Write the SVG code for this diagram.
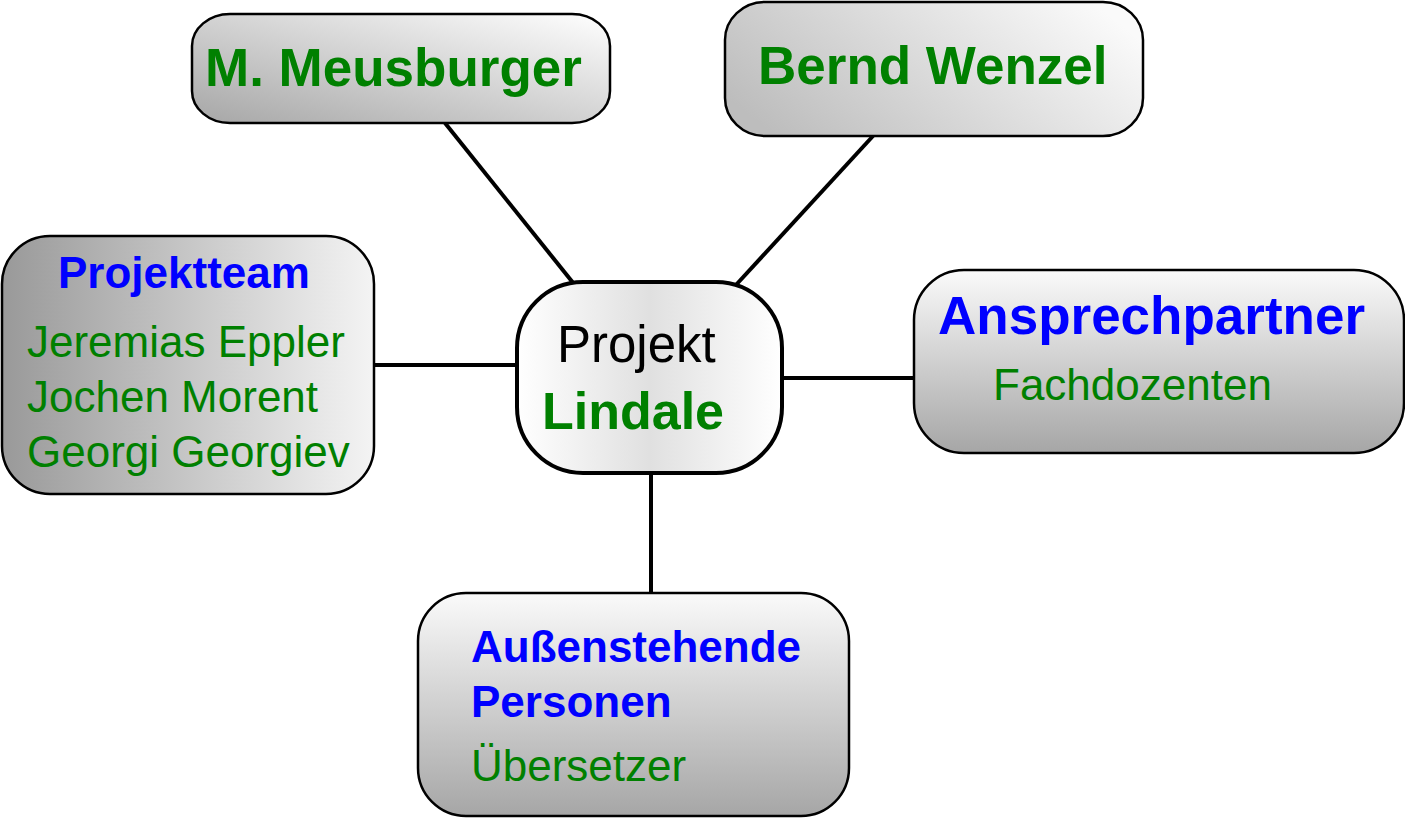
<svg xmlns="http://www.w3.org/2000/svg" width="1405" height="818" viewBox="0 0 1405 818">
<defs>
<linearGradient id="gDiag" x1="0" y1="1" x2="1" y2="0"><stop offset="0" stop-color="#a6a6a6"/><stop offset="1" stop-color="#ffffff"/></linearGradient>
<linearGradient id="gBW" x1="0" y1="0.7" x2="1" y2="0.3"><stop offset="0" stop-color="#bdbdbd"/><stop offset="1" stop-color="#fafafa"/></linearGradient>
<linearGradient id="gH" x1="0" y1="0" x2="1" y2="0"><stop offset="0" stop-color="#999999"/><stop offset="1" stop-color="#f4f4f4"/></linearGradient>
<linearGradient id="gC" x1="0" y1="0" x2="1" y2="0"><stop offset="0" stop-color="#ffffff"/><stop offset="0.5" stop-color="#e0e0e0"/><stop offset="1" stop-color="#ffffff"/></linearGradient>
<linearGradient id="gV" x1="0" y1="0" x2="0" y2="1"><stop offset="0" stop-color="#fafafa"/><stop offset="1" stop-color="#a6a6a6"/></linearGradient>
</defs>
<style>
.box{stroke:#000;stroke-width:2.5}
.t{font-family:"Liberation Sans",Arial,sans-serif}
.b{font-weight:bold}
.g{fill:#008000}
.bl{fill:#0000ff}
.k{fill:#000}
.c{stroke:#000;stroke-width:4;fill:none}
</style>
<g id="connectors">
<line class="c" x1="445" y1="123" x2="574" y2="284"/>
<line class="c" x1="873" y1="136" x2="735" y2="286"/>
<line class="c" x1="374" y1="365" x2="517" y2="365"/>
<line class="c" x1="782" y1="378" x2="914" y2="378"/>
<line class="c" x1="651" y1="473" x2="651" y2="593"/>
</g>
<g id="meusburger">
<rect class="box" x="192" y="14" width="418" height="109" rx="38" ry="32" fill="url(#gDiag)"/>
<text class="t b g" x="205" y="86" font-size="53">M. Meusburger</text>
</g>
<g id="wenzel">
<rect class="box" x="725" y="2" width="418" height="134" rx="40" ry="38" fill="url(#gBW)"/>
<text class="t b g" x="758" y="84" font-size="53">Bernd Wenzel</text>
</g>
<g id="projektteam">
<rect class="box" x="2" y="236" width="372" height="258" rx="48" fill="url(#gH)"/>
<text class="t b bl" x="58" y="288" font-size="44">Projektteam</text>
<text class="t g" x="27" y="357" font-size="44">Jeremias Eppler</text>
<text class="t g" x="27" y="412" font-size="44">Jochen Morent</text>
<text class="t g" x="27" y="467" font-size="44">Georgi Georgiev</text>
</g>
<g id="center">
<rect x="517" y="282" width="265" height="191" rx="66" fill="url(#gC)" stroke="#000" stroke-width="4"/>
<text class="t k" x="557" y="362" font-size="51">Projekt</text>
<text class="t b g" x="542" y="429" font-size="52">Lindale</text>
</g>
<g id="ansprechpartner">
<rect class="box" x="914" y="270" width="490" height="183" rx="50" fill="url(#gV)"/>
<text class="t b bl" x="938" y="334" font-size="53">Ansprechpartner</text>
<text class="t g" x="993" y="400" font-size="44">Fachdozenten</text>
</g>
<g id="aussenstehende">
<rect class="box" x="418" y="593" width="431" height="223" rx="48" fill="url(#gV)"/>
<text class="t b bl" x="471" y="662" font-size="44">Außenstehende</text>
<text class="t b bl" x="471" y="717" font-size="44">Personen</text>
<text class="t g" x="471" y="781" font-size="44">Übersetzer</text>
</g>
</svg>
